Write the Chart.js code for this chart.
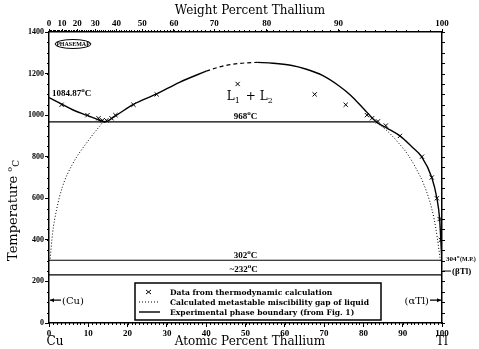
<!DOCTYPE html>
<html lang="en">
<head>
<meta charset="UTF-8">
<title>Cu-Tl</title>
<script src="https://cdn.jsdelivr.net/npm/chart.js@4.4.0/dist/chart.umd.min.js"></script>
<style>
  html, body { margin: 0; padding: 0; background: #fff; }
</style>
</head>
<body>
<canvas id="c" width="479" height="349"></canvas>
<script>
// tick labels
const atTicks = [0, 10, 20, 30, 40, 50, 60, 70, 80, 90, 100];
const wtTicks = [0, 10, 20, 30, 40, 50, 60, 70, 80, 90, 100];
const tempTicks = [0, 200, 400, 600, 800, 1000, 1200, 1400];

// x markers: data from thermodynamic calculation (at.% Tl, degC)
const calcAt = [3.2, 9.8, 12.6, 13.6, 14.6, 15.9, 16.9, 21.5, 27.4, 48.0, 67.6, 75.5, 80.9, 82.2, 83.7, 85.7, 89.3, 94.9, 97.4, 98.7, 99.4, 99.7];
const calcT  = [1050, 1000, 985, 975, 975, 985, 1000, 1050, 1100, 1150, 1100, 1050, 1000, 985, 970, 950, 900, 800, 700, 600, 500, 400];

// experimental phase boundary
const expLeftAt = [0, 3, 6, 9.5, 12, 14.2, 17, 21.5, 27.4, 33.2, 40];
const expLeftT  = [1084.87, 1055, 1026, 1000, 982, 968, 998, 1052, 1102, 1158, 1212];
const expTopAt  = [40, 44, 48, 53];
const expTopT   = [1212, 1235, 1248, 1254];
const expRightAt = [53, 57, 61.5, 65.3, 69.7, 74, 76.8, 80, 83.4, 86, 89.3, 92.2, 94.8, 97.4, 98.7, 99.4, 99.7, 99.95];
const expRightT  = [1254, 1250, 1240, 1222, 1190, 1138, 1095, 1032, 966, 938, 900, 850, 800, 700, 600, 500, 400, 304];

// calculated metastable miscibility gap of liquid
const metaLeftAt = [0.3, 0.9, 1.9, 3.4, 6.0, 10.3, 13.6];
const metaLeftT  = [310, 431, 543, 654, 765, 885, 964];
const metaRightAt = [83.4, 86, 89, 91.5, 93.5, 95.3, 96.8, 98, 98.8, 99.3, 99.6];
const metaRightT  = [964, 925, 865, 805, 740, 670, 590, 500, 410, 340, 302];

// invariant lines
const monotecticT = 968;
const monotecticEnd = 83.4;
const tlMeltT = 302;
const eutecticT = 232;

const M_CU = 63.546, M_TL = 204.38;
function wtToAt(w) {
  const a = w / M_TL, b = (100 - w) / M_CU;
  return 100 * a / (a + b);
}
function pts(xs, ys) { return xs.map((x, i) => ({ x: x, y: ys[i] })); }

const serif = '"DejaVu Serif", serif';
const lab = '"Liberation Serif", serif';

function line(data, extra) {
  return Object.assign({
    data: data, showLine: true, borderColor: '#000', borderWidth: 1.4,
    pointRadius: 0, cubicInterpolationMode: 'monotone', fill: false
  }, extra || {});
}

const textPlugin = {
  id: 'texts',
  afterDraw(chart) {
    const ctx = chart.ctx, a = chart.chartArea, sx = chart.scales.x, sy = chart.scales.y;
    const X = v => sx.getPixelForValue(v), Y = v => sy.getPixelForValue(v);
    ctx.save();
    ctx.fillStyle = '#000';
    ctx.strokeStyle = '#000';
    ctx.textBaseline = 'alphabetic';

    // minor ticks
    ctx.lineWidth = 1;
    ctx.beginPath();
    for (let v = 0; v <= 100; v++) {
      const p = Math.round(X(v)) + 0.5;
      ctx.moveTo(p, a.bottom); ctx.lineTo(p, a.bottom + 2);
    }
    for (let w = 0; w <= 100; w++) {
      const p = Math.round(chart.scales.xTop.getPixelForValue(wtToAt(w))) + 0.5;
      ctx.moveTo(p, a.top); ctx.lineTo(p, a.top - 2);
    }
    for (let t = 0; t <= 1400; t += 50) {
      const p = Math.round(Y(t)) + 0.5;
      ctx.moveTo(a.left, p); ctx.lineTo(a.left - 2, p);
      ctx.moveTo(a.right, p); ctx.lineTo(a.right + 3, p);
    }
    ctx.stroke();

    // axis titles
    ctx.font = '12px ' + serif;
    ctx.textAlign = 'center';
    ctx.fillText('Weight Percent Thallium', 250, 14);
    ctx.fillText('Atomic Percent Thallium', 250, 345);
    ctx.fillText('Cu', 55, 345);
    ctx.fillText('Tl', 442, 345);

    ctx.save();
    ctx.translate(17, 195);
    ctx.rotate(-Math.PI / 2);
    ctx.textAlign = 'left';
    ctx.font = '13px ' + serif;
    const tw = ctx.measureText('Temperature ').width;
    ctx.fillText('Temperature ', -66, 0);
    ctx.font = '8px ' + serif;
    ctx.fillText('o', -66 + tw, -5);
    ctx.font = '9px ' + serif;
    ctx.fillText('C', -66 + tw + 5, 2);
    ctx.restore();

    // degree labels
    function degLabel(num, x, y, align, size) {
      ctx.font = 'bold ' + size + 'px ' + lab;
      const w1 = ctx.measureText(num).width;
      ctx.font = 'bold ' + (size - 2) + 'px ' + lab;
      const w2 = ctx.measureText('o').width;
      ctx.font = 'bold ' + size + 'px ' + lab;
      const w3 = ctx.measureText('C').width;
      const tot = w1 + w2 + w3;
      let x0 = align === 'center' ? x - tot / 2 : (align === 'right' ? x - tot : x);
      ctx.textAlign = 'left';
      ctx.fillText(num, x0, y);
      ctx.font = 'bold ' + (size - 2) + 'px ' + lab;
      ctx.fillText('o', x0 + w1, y - 4);
      ctx.font = 'bold ' + size + 'px ' + lab;
      ctx.fillText('C', x0 + w1 + w2, y);
    }
    degLabel('1084.87', a.left + 3, Y(1090), 'left', 9);
    degLabel('968', X(50), Y(982), 'center', 9);
    degLabel('302', X(50), Y(314), 'center', 9);
    degLabel('~232', X(49.5), Y(246), 'center', 9);

    // L1 + L2
    ctx.textAlign = 'left';
    ctx.font = '12px ' + serif;
    let lx = X(45.2), ly = Y(1072);
    ctx.fillText('L', lx, ly);
    ctx.font = '8px ' + serif;
    ctx.fillText('1', lx + 8, ly + 3);
    ctx.font = '12px ' + serif;
    ctx.fillText('+', lx + 19, ly);
    ctx.fillText('L', lx + 33, ly);
    ctx.font = '8px ' + serif;
    ctx.fillText('2', lx + 41, ly + 3);

    // right side labels
    ctx.font = 'bold 7px ' + lab;
    ctx.textAlign = 'left';
    ctx.fillText('304', a.right + 4, Y(300));
    ctx.font = 'bold 5px ' + lab;
    ctx.fillText('o', a.right + 15, Y(300) - 3);
    ctx.font = 'bold 6px ' + lab;
    ctx.fillText('(M.P.)', a.right + 18, Y(300));
    ctx.font = 'bold 9px ' + lab;
    ctx.fillText('(\u03B2Tl)', a.right + 10, Y(250) + 3);
    ctx.beginPath();
    ctx.moveTo(a.right + 1, Y(250)); ctx.lineTo(a.right + 9, Y(250));
    ctx.stroke();

    ctx.font = '10px ' + serif;
    ctx.textAlign = 'right';
    ctx.fillText('(\u03B1Tl)', a.right - 13, Y(110) + 4);
    ctx.textAlign = 'left';
    ctx.fillText('(Cu)', a.left + 13, Y(110) + 4);
    ctx.lineWidth = 1.4;
    ctx.beginPath();
    ctx.moveTo(a.right - 12, Y(110)); ctx.lineTo(a.right - 1, Y(110));
    ctx.moveTo(a.left + 1, Y(110)); ctx.lineTo(a.left + 12, Y(110));
    ctx.stroke();
    ctx.beginPath();
    ctx.moveTo(a.right - 1, Y(110)); ctx.lineTo(a.right - 5, Y(110) - 2); ctx.lineTo(a.right - 5, Y(110) + 2);
    ctx.moveTo(a.left + 1, Y(110)); ctx.lineTo(a.left + 5, Y(110) - 2); ctx.lineTo(a.left + 5, Y(110) + 2);
    ctx.fill();

    // PHASEMAP logo
    ctx.lineWidth = 1;
    ctx.beginPath();
    ctx.ellipse(73, 44, 18, 4.5, 0, 0, Math.PI * 2);
    ctx.stroke();
    ctx.font = 'bold 6px ' + lab;
    ctx.textAlign = 'center';
    ctx.fillText('PHASEMAP', 73, 46);

    // legend
    const lx0 = 135, ly0 = 283, lw = 246, lh = 37;
    ctx.fillStyle = '#fff';
    ctx.fillRect(lx0, ly0, lw, lh);
    ctx.fillStyle = '#000';
    ctx.lineWidth = 1.5;
    ctx.strokeRect(lx0, ly0, lw, lh);
    const rows = [ly0 + 9, ly0 + 19, ly0 + 29];
    ctx.lineWidth = 1;
    ctx.beginPath();
    ctx.moveTo(146, rows[0] - 2); ctx.lineTo(151, rows[0] + 2);
    ctx.moveTo(151, rows[0] - 2); ctx.lineTo(146, rows[0] + 2);
    ctx.stroke();
    ctx.setLineDash([1, 2]);
    ctx.beginPath();
    ctx.moveTo(139, rows[1]); ctx.lineTo(160, rows[1]);
    ctx.stroke();
    ctx.setLineDash([]);
    ctx.lineWidth = 1.4;
    ctx.beginPath();
    ctx.moveTo(139, rows[2]); ctx.lineTo(160, rows[2]);
    ctx.stroke();
    ctx.font = 'bold 7.6px ' + serif;
    ctx.textAlign = 'left';
    ctx.fillText('Data from thermodynamic calculation', 170, rows[0] + 3);
    ctx.fillText('Calculated metastable miscibility gap of liquid', 170, rows[1] + 3);
    ctx.fillText('Experimental phase boundary (from Fig. 1)', 170, rows[2] + 3);
    ctx.restore();
  }
};

const tickFont = { family: 'Liberation Serif', size: 9, weight: 'bold' };
const axisBorder = { display: true, color: '#000', width: 1.5 };

new Chart(document.getElementById('c'), {
  type: 'scatter',
  data: {
    datasets: [
      line(pts(expLeftAt, expLeftT)),
      line(pts(expTopAt, expTopT), { borderDash: [4, 3], borderWidth: 1.2 }),
      line(pts(expRightAt, expRightT)),
      line(pts(metaLeftAt, metaLeftT), { borderDash: [1, 2], borderWidth: 1 }),
      line(pts(metaRightAt, metaRightT), { borderDash: [1, 2], borderWidth: 1 }),
      line([{ x: 0, y: monotecticT }, { x: monotecticEnd, y: monotecticT }], { borderWidth: 1.2 }),
      line([{ x: 0, y: tlMeltT }, { x: 100, y: tlMeltT }], { borderWidth: 1.2 }),
      line([{ x: 0, y: eutecticT }, { x: 100, y: eutecticT }], { borderWidth: 1.2 }),
      {
        data: pts(calcAt, calcT), showLine: false, pointStyle: 'crossRot',
        pointRadius: 3, borderColor: '#000', borderWidth: 1, backgroundColor: '#000'
      }
    ]
  },
  options: {
    responsive: false,
    devicePixelRatio: 1,
    animation: false,
    layout: { padding: 0 },
    plugins: { legend: { display: false }, tooltip: { enabled: false } },
    scales: {
      x: {
        type: 'linear', position: 'bottom', min: 0, max: 100,
        afterBuildTicks: s => { s.ticks = atTicks.map(v => ({ value: v })); },
        ticks: { font: tickFont, color: '#000', padding: 1, maxRotation: 0, autoSkip: false,
                 callback: v => String(v) },
        grid: { drawOnChartArea: false, tickLength: 4, color: '#000', lineWidth: 1 },
        border: axisBorder,
        afterFit: s => { s.height = 26; }
      },
      xTop: {
        type: 'linear', position: 'top', min: 0, max: 100,
        afterBuildTicks: s => { s.ticks = wtTicks.map(w => ({ value: wtToAt(w) })); },
        ticks: { font: tickFont, color: '#000', padding: 0, maxRotation: 0, autoSkip: false,
                 callback: (v, i) => String(wtTicks[i]) },
        grid: { drawOnChartArea: false, tickLength: 3, color: '#000', lineWidth: 1 },
        border: axisBorder,
        afterFit: s => { s.height = 32; }
      },
      y: {
        type: 'linear', position: 'left', min: 0, max: 1400,
        afterBuildTicks: s => { s.ticks = tempTicks.map(v => ({ value: v })); },
        ticks: { font: { family: 'Liberation Serif', size: 8, weight: 'bold' }, color: '#000', padding: 1,
                 callback: v => String(v) },
        grid: { drawOnChartArea: false, tickLength: 4, color: '#000', lineWidth: 1 },
        border: axisBorder,
        afterFit: s => { s.width = 49; }
      },
      yRight: {
        type: 'linear', position: 'right', min: 0, max: 1400,
        ticks: { display: false },
        grid: { display: false },
        border: axisBorder,
        afterFit: s => { s.width = 37; }
      }
    }
  },
  plugins: [textPlugin]
});
</script>
</body>
</html>
